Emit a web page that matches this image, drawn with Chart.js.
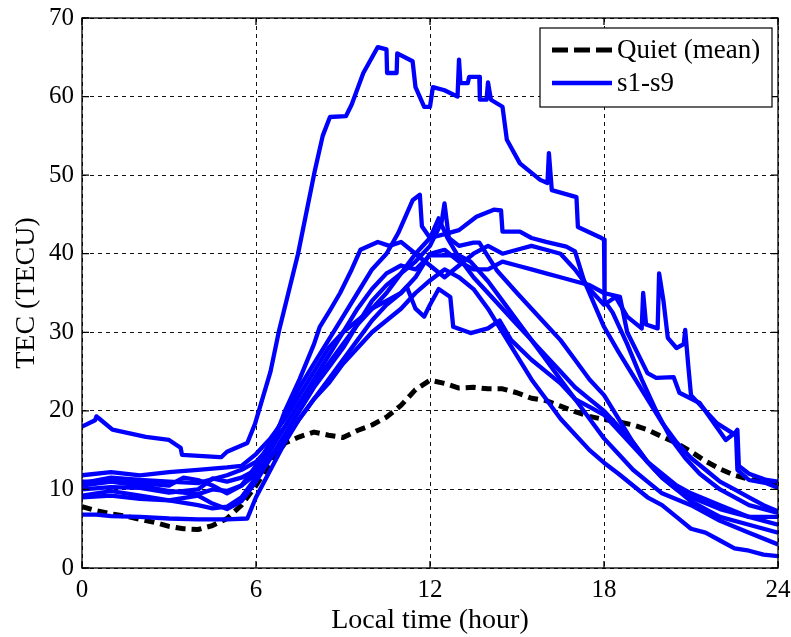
<!DOCTYPE html>
<html>
<head>
<meta charset="utf-8">
<script src="https://cdn.jsdelivr.net/npm/chart.js@4"></script>
<style>
  html, body { margin: 0; padding: 0; background: #fff; }
</style>
</head>
<body>
<canvas id="myChart" width="791" height="637"></canvas>
<script>
// Quiet-day mean TEC (black dashed)
const quietHour = [0, 0.5, 1, 1.5, 2, 2.5, 3, 3.5, 4, 4.5, 5, 5.5, 6, 6.5, 7, 7.5, 8, 8.5, 9, 9.5,
  10, 10.5, 11, 11.5, 12, 12.5, 13, 13.5, 14, 14.5, 15, 15.5, 16, 16.5, 17, 17.5, 18, 18.5, 19, 19.5,
  20, 20.5, 21, 21.5, 22, 22.5, 23, 23.5, 24];
const quietTec = [7.8, 7.3, 6.9, 6.6, 6.2, 5.8, 5.3, 5.0, 4.9, 5.4, 6.3, 8, 10.5, 13.4, 15.9, 16.7, 17.3, 16.9, 16.6, 17.5,
  18.2, 19.2, 20.7, 22.7, 23.9, 23.5, 22.9, 23.0, 22.8, 22.8, 22.3, 21.6, 21.3, 20.6, 19.9, 19.3, 18.9, 18.6, 18.2, 17.6,
  16.7, 15.9, 14.8, 13.6, 12.6, 11.8, 11.3, 11, 10.8];

// storm days s1..s9 (blue)
const s1Hour = [0, 0.45, 0.5, 0.6, 1.05, 2.2, 3, 3.4, 3.45, 4.75, 4.8, 5, 5.7, 5.97, 6.5, 6.8, 7.45, 8.03, 8.3, 8.55,
  9.1, 9.3, 9.7, 10.2, 10.5, 10.52, 10.85, 10.87, 11.4, 11.5, 11.8, 12, 12.1, 12.5, 12.95, 13, 13.05, 13.3, 13.35, 13.7,
  13.72, 13.95, 14, 14.1, 14.5, 14.65, 15.1, 15.8, 16.05, 16.1, 16.2, 17.05, 17.1, 17.86, 18, 18.02, 18.3, 18.8, 19.3, 19.8,
  20.3, 20.8, 21.3, 22, 23, 24];
const s1Tec = [18, 18.8, 19.3, 19, 17.6, 16.7, 16.3, 15.3, 14.4, 14.1, 14.1, 14.8, 15.9, 18.4, 25, 30.3, 40, 50.6, 55, 57.4,
  57.5, 59, 63, 66.3, 66, 63, 63, 65.5, 64.5, 61.2, 58.7, 58.7, 61.2, 60.8, 60, 64.7, 61.7, 61.7, 62.5, 62.5,
  59.6, 59.6, 61.8, 59.6, 58.7, 54.5, 51.5, 49.4, 49, 52.8, 48.1, 47.2, 43.4, 42.1, 41.8, 34, 32.5, 28.5, 24, 20,
  16.5, 14, 12, 10, 8, 7];

const s2Hour = [0, 1, 2, 3, 3.5, 4, 4.5, 5, 5.5, 6, 6.5, 7, 7.5, 8, 8.5, 9, 9.5, 10, 10.5, 10.9,
  11.4, 11.65, 11.72, 12, 12.3, 12.6, 13, 13.5, 14, 14.5, 15, 15.5, 16, 16.5, 17, 17.5, 18, 18.5, 19, 19.5,
  20, 20.5, 21, 22, 23, 24];
const s2Tec = [10.5, 11, 10.8, 10.5, 11.5, 11.2, 10.5, 9.5, 10.5, 13, 16, 19.5, 23, 26, 29, 32, 35, 38, 40, 42.6,
  46.8, 47.5, 43.5, 42, 44.5, 42, 39.5, 37, 35, 33, 31, 29, 27, 25, 23, 21.5, 20, 18, 16, 13.5,
  12, 10.5, 9.5, 8, 6.5, 5.5];

const s3Hour = [0, 1, 2, 3, 4, 5, 5.5, 6, 6.5, 7, 7.5, 8, 8.5, 9, 9.5, 10, 10.5, 11, 11.5, 12,
  12.5, 13, 13.6, 14.2, 14.45, 14.5, 15.1, 15.5, 16, 16.7, 17, 17.3, 18, 18.5, 19, 19.5, 20, 20.5, 21, 21.5,
  22, 22.5, 23, 23.5, 24];
const s3Tec = [11.8, 12.2, 11.8, 12.2, 12.5, 12.8, 13, 14.5, 16.5, 19, 22, 25, 28, 30, 31.5, 33, 35, 37.5, 40, 42,
  42.5, 43, 44.7, 45.6, 45.5, 42.8, 42.8, 42, 41.5, 40.9, 40.3, 36.7, 30.7, 27.5, 24.5, 21.5, 18.5, 16, 14, 12.5,
  11, 10, 9, 8, 7.2];

const s4Hour = [0, 1, 2, 3, 4, 4.5, 5, 5.5, 6, 6.5, 7, 7.5, 8, 8.2, 8.55, 8.9, 9.3, 9.6, 10.2, 10.6,
  11, 11.5, 12, 12.5, 13, 13.5, 14, 14.5, 15, 15.5, 16, 16.5, 17, 17.5, 18, 18.4, 18.8, 19.3, 19.35, 19.45,
  19.85, 19.9, 20.05, 20.2, 20.5, 20.75, 20.8, 20.9, 21, 21.5, 21.9, 22.5, 22.6, 22.65, 23, 23.6, 24];
const s4Tec = [9.2, 9.8, 9.2, 8.6, 8, 7.6, 7.8, 9, 11.5, 15, 20, 24, 28.5, 30.7, 32.8, 35, 38, 40.5, 41.5, 41,
  41.5, 40, 38.5, 37, 38.5, 40, 41, 40, 40.5, 41, 40.5, 40, 38, 35.5, 33.5, 34.5, 32, 30.5, 35, 31,
  30.5, 37.5, 34, 29.3, 28, 28.5, 30.3, 26, 22, 20, 18.4, 17, 17.6, 13, 12, 11.2, 11];

const s5Hour = [0, 1, 2, 3, 4, 4.5, 5, 5.5, 6, 6.5, 7, 7.5, 8, 8.5, 9, 9.5, 10, 10.5, 11, 11.5,
  12, 12.5, 13, 13.5, 14, 14.5, 15, 15.5, 16, 16.5, 17, 17.5, 18, 18.55, 18.8, 19.5, 19.8, 20.4, 20.6, 21.3,
  22.2, 22.55, 22.6, 23, 23.6, 24];
const s5Tec = [10, 10.3, 10.2, 9.6, 10, 11.4, 11, 11.5, 12.5, 15, 18, 21, 23.5, 26, 28.5, 31, 33, 34, 35, 37,
  40, 40.5, 39, 38, 38, 39, 38.5, 38, 37.5, 37, 36.5, 36, 35, 34.5, 30, 24.8, 24.2, 24.3, 22.3, 21,
  16.3, 17.3, 12.5, 11.2, 10.8, 10.2];

const s6Hour = [0, 1, 2, 3, 4, 4.5, 5, 5.5, 6, 6.5, 7, 7.5, 8, 8.5, 9, 9.5, 10, 10.5, 11, 11.5,
  12, 12.4, 12.5, 12.65, 13, 13.5, 13.7, 14.3, 15, 15.5, 16, 16.5, 17, 17.5, 18, 18.5, 19, 19.5, 20, 20.5,
  21, 22, 23, 24];
const s6Tec = [9, 9.2, 8.8, 8.6, 9.2, 8.2, 7.5, 8.5, 11, 14, 17, 20, 23, 25.5, 28, 31, 34, 36, 37.5, 39,
  41, 44, 46.4, 42, 41, 41.4, 41.4, 37.9, 35, 33, 31, 29, 26.5, 24, 22, 19, 16, 13.5, 11.5, 10,
  9, 7.5, 6.5, 6.5];

const s7Hour = [0, 1, 2, 3, 4, 4.5, 5, 5.5, 6, 6.5, 7, 7.5, 8, 8.5, 9, 9.5, 10, 10.5, 11, 11.2,
  11.5, 11.8, 12, 12.3, 12.7, 12.8, 13.4, 14, 14.4, 14.8, 15.5, 16, 16.5, 17, 17.5, 18, 18.5, 19, 19.5, 20,
  20.5, 21, 21.5, 22, 23, 24];
const s7Tec = [11, 11, 10.5, 9.8, 9.4, 10, 9.8, 10.5, 12, 14, 16.5, 19, 21.5, 24, 26.5, 29, 31.5, 33.5, 35, 35.8,
  33, 32, 33.5, 35.5, 34.5, 30.7, 29.9, 30.5, 31.5, 29, 26.5, 25, 23.5, 21.5, 20.5, 19.5, 17.5, 15.5, 13.5, 11.5,
  10, 8.5, 7.5, 6.5, 5.5, 4.5];

const s8Hour = [0, 0.5, 1, 2, 3, 4, 5, 5.7, 6, 6.5, 7, 7.5, 8, 8.5, 9, 9.5, 10, 10.5, 11, 11.5,
  12, 12.5, 13, 13.5, 14, 14.5, 15, 15.5, 16, 16.5, 17, 17.5, 18, 18.5, 19, 19.5, 20, 20.5, 21, 21.5,
  22, 22.5, 23, 23.5, 24];
const s8Tec = [6.8, 6.8, 6.6, 6.5, 6.3, 6.2, 6.2, 6.3, 9, 12.5, 16, 19, 21.5, 23.5, 26, 28, 30, 31.5, 33, 35,
  36.6, 38, 37, 35.5, 33, 30, 27, 24, 21.5, 19, 17, 15, 13.4, 12, 10.5, 9, 8, 6.5, 5, 4.5,
  3.5, 2.5, 2.2, 1.7, 1.5];

const s9Hour = [0, 1, 2, 3, 4, 5, 5.5, 6, 6.5, 7, 7.5, 8, 8.5, 9, 9.5, 10, 10.5, 11, 11.5, 12,
  12.5, 13, 13.4, 14, 14.5, 15, 15.5, 16, 16.5, 17, 17.5, 18, 18.5, 19, 19.5, 20, 21, 22, 23, 24];
const s9Tec = [10.8, 11.5, 11.2, 11, 10.8, 11.8, 12.5, 13.5, 15.5, 18, 21, 24, 27, 30, 33, 35.5, 37.5, 38.5, 38, 39.8,
  39.8, 39.8, 39, 36.5, 34, 31.5, 29, 26.5, 24, 21.5, 19, 16.5, 14.5, 12.5, 11, 9.5, 8, 6, 4.5, 3];

const xTicks = [0, 6, 12, 18, 24];
const yTicks = [0, 10, 20, 30, 40, 50, 60, 70];

const stormDays = [
  [s1Hour, s1Tec], [s2Hour, s2Tec], [s3Hour, s3Tec], [s4Hour, s4Tec], [s5Hour, s5Tec],
  [s6Hour, s6Tec], [s7Hour, s7Tec], [s8Hour, s8Tec], [s9Hour, s9Tec]
];

const serif = "'Liberation Serif', 'Times New Roman', serif";
const blue = "#0000ff";

function toPoints(hours, tec) {
  return hours.map((h, i) => ({ x: h, y: tec[i] }));
}

const datasets = [{
  label: "Quiet (mean)",
  data: toPoints(quietHour, quietTec),
  borderColor: "#000",
  borderWidth: 5,
  borderDash: [10, 6],
  order: 1
}];
stormDays.forEach((d, i) => {
  datasets.push({
    label: i === 0 ? "s1-s9" : "s" + (i + 1),
    data: toPoints(d[0], d[1]),
    borderColor: blue,
    borderWidth: 4.3,
    order: 0
  });
});

// MATLAB-ish box, inward ticks and legend inside the axes
const boxPlugin = {
  id: "boxPlugin",
  afterDraw(chart) {
    const { ctx, chartArea: a, scales } = chart;
    ctx.save();
    ctx.strokeStyle = "#000";
    ctx.lineWidth = 1.3;
    ctx.setLineDash([]);
    ctx.strokeRect(a.left, a.top, a.right - a.left, a.bottom - a.top);
    ctx.beginPath();
    xTicks.forEach((v) => {
      const px = scales.x.getPixelForValue(v);
      ctx.moveTo(px, a.bottom); ctx.lineTo(px, a.bottom - 7);
      ctx.moveTo(px, a.top); ctx.lineTo(px, a.top + 7);
    });
    yTicks.forEach((v) => {
      const py = scales.y.getPixelForValue(v);
      ctx.moveTo(a.left, py); ctx.lineTo(a.left + 7, py);
      ctx.moveTo(a.right, py); ctx.lineTo(a.right - 7, py);
    });
    ctx.stroke();

    // legend
    const w = 232, h = 79;
    const x0 = a.right - 6 - w, y0 = a.top + 10;
    ctx.fillStyle = "#fff";
    ctx.fillRect(x0, y0, w, h);
    ctx.lineWidth = 1.2;
    ctx.strokeRect(x0, y0, w, h);
    const rows = [chart.data.datasets[0], chart.data.datasets[1]];
    rows.forEach((ds, i) => {
      const ly = y0 + 22 + i * 33;
      ctx.beginPath();
      ctx.strokeStyle = ds.borderColor;
      ctx.lineWidth = ds.borderWidth;
      ctx.setLineDash(ds.borderDash ? [16, 6] : []);
      ctx.moveTo(x0 + 12, ly);
      ctx.lineTo(x0 + 72, ly);
      ctx.stroke();
      ctx.setLineDash([]);
      ctx.fillStyle = "#000";
      ctx.font = "27px " + serif;
      ctx.textBaseline = "middle";
      ctx.textAlign = "left";
      ctx.fillText(ds.label, x0 + 77, ly + 1);
    });
    ctx.restore();
  }
};

const ctx = document.getElementById("myChart").getContext("2d");
new Chart(ctx, {
  type: "scatter",
  data: { datasets: datasets },
  options: {
    responsive: false,
    animation: false,
    showLine: true,
    layout: { padding: { top: 18, right: 13, left: 0, bottom: 0 } },
    elements: {
      point: { radius: 0, hoverRadius: 0 },
      line: { tension: 0, borderJoinStyle: "round", fill: false }
    },
    scales: {
      x: {
        type: "linear",
        min: 0,
        max: 24,
        afterFit(scale) {
          scale.height = 69;
          scale.paddingLeft = 0;
          scale.paddingRight = 0;
        },
        afterBuildTicks(scale) { scale.ticks = xTicks.map((v) => ({ value: v })); },
        ticks: { color: "#000", padding: 7, font: { family: serif, size: 25 } },
        grid: { color: "#111", lineWidth: 1, drawTicks: false },
        border: { display: false, dash: [4, 4] },
        title: {
          display: true,
          text: "Local time (hour)",
          color: "#000",
          font: { family: serif, size: 28 },
          padding: { top: 0, bottom: 0 }
        }
      },
      y: {
        min: 0,
        max: 70,
        afterFit(scale) {
          scale.width = 82;
          scale.paddingTop = 0;
          scale.paddingBottom = 0;
        },
        afterBuildTicks(scale) { scale.ticks = yTicks.map((v) => ({ value: v })); },
        ticks: { color: "#000", padding: 8, font: { family: serif, size: 25 } },
        grid: { color: "#111", lineWidth: 1, drawTicks: false },
        border: { display: false, dash: [4, 4] },
        title: {
          display: true,
          text: "TEC (TECU)",
          color: "#000",
          font: { family: serif, size: 28 },
          padding: { top: 10, bottom: 0 }
        }
      }
    },
    plugins: {
      legend: { display: false },
      tooltip: { enabled: false }
    }
  },
  plugins: [boxPlugin]
});
</script>
</body>
</html>
